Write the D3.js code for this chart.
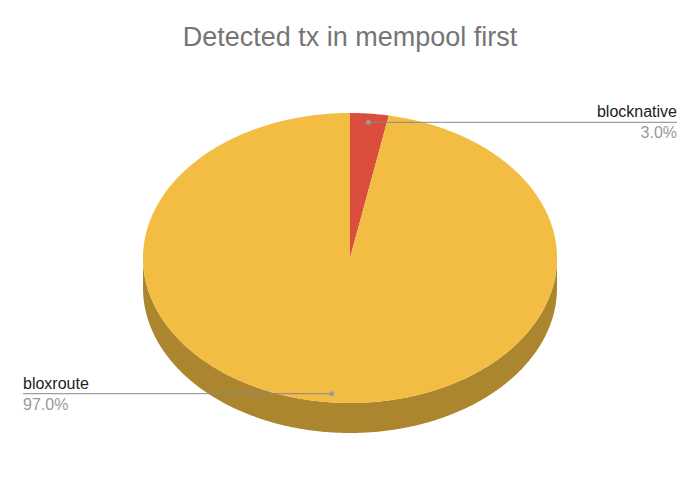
<!DOCTYPE html>
<html>
<head>
<meta charset="utf-8">
<script src="https://cdn.jsdelivr.net/npm/d3@7"></script>
<style>
  html, body { margin: 0; padding: 0; background: #fff; }
  svg { display: block; font-family: "Liberation Sans", Arial, sans-serif; }
</style>
</head>
<body>
<svg id="chart" width="700" height="502"></svg>
<script>
const title = "Detected tx in mempool first";
const categories = ["blocknative", "bloxroute"];
const values = [3.0, 97.0];
const topColors = ["#DB4E3D", "#F2BD42"];
const sideColors = ["#9A3628", "#AC862E"];

const W = 700, H = 502;
const cx = 350, cy = 258, rx = 207, ry = 145, depth = 30;

const svg = d3.select("#chart");
svg.append("rect").attr("width", W).attr("height", H).attr("fill", "#fff");

svg.append("text")
  .attr("x", W / 2).attr("y", 46)
  .attr("text-anchor", "middle")
  .attr("font-size", 27)
  .attr("fill", "#757575")
  .text(title);

const data = categories.map((c, i) => ({ name: c, value: values[i], i }));
const total = d3.sum(values);
const pie = d3.pie().sort(null).value(d => d.value);
const arcs = pie(data);

function pt(a, off, f = 1) {
  return [cx + rx * f * Math.sin(a), cy - ry * f * Math.cos(a) + off];
}
function arcPts(a0, a1, off) {
  const n = Math.max(2, Math.ceil(Math.abs(a1 - a0) / 0.01));
  return d3.range(n + 1).map(k => pt(a0 + (a1 - a0) * k / n, off));
}
const line = d3.line();

// side walls (front half: angles between PI/2 and 3PI/2)
arcs.forEach(s => {
  const a0 = Math.max(s.startAngle, Math.PI / 2);
  const a1 = Math.min(s.endAngle, 3 * Math.PI / 2);
  if (a1 <= a0) return;
  const top = arcPts(a0, a1, 0);
  const bot = arcPts(a1, a0, depth);
  svg.append("path")
    .attr("d", line(top.concat(bot)) + "Z")
    .attr("fill", sideColors[s.data.i]);
});

// top faces
arcs.forEach(s => {
  const pts = [[cx, cy]].concat(arcPts(s.startAngle, s.endAngle, 0));
  svg.append("path")
    .attr("d", line(pts) + "Z")
    .attr("fill", topColors[s.data.i]);
});

// labels
arcs.forEach(s => {
  const mid = (s.startAngle + s.endAngle) / 2;
  const [ax, ay] = pt(mid, 0, 0.94);
  const right = Math.sin(mid) >= 0;
  const ex = right ? 677 : 23;
  const g = svg.append("g");
  g.append("line")
    .attr("x1", ax).attr("y1", ay).attr("x2", ex).attr("y2", ay)
    .attr("stroke", "#888").attr("stroke-width", 1);
  g.append("circle")
    .attr("cx", ax).attr("cy", ay).attr("r", 2.5)
    .attr("fill", "#9a9a9a");
  const anchor = right ? "end" : "start";
  g.append("text")
    .attr("x", ex).attr("y", ay - 5)
    .attr("text-anchor", anchor)
    .attr("font-size", 16)
    .attr("fill", "#222")
    .text(s.data.name);
  g.append("text")
    .attr("x", ex).attr("y", ay + 16)
    .attr("text-anchor", anchor)
    .attr("font-size", 16)
    .attr("fill", "#999")
    .text(d3.format(".1%")(s.data.value / total));
});
</script>
</body>
</html>
